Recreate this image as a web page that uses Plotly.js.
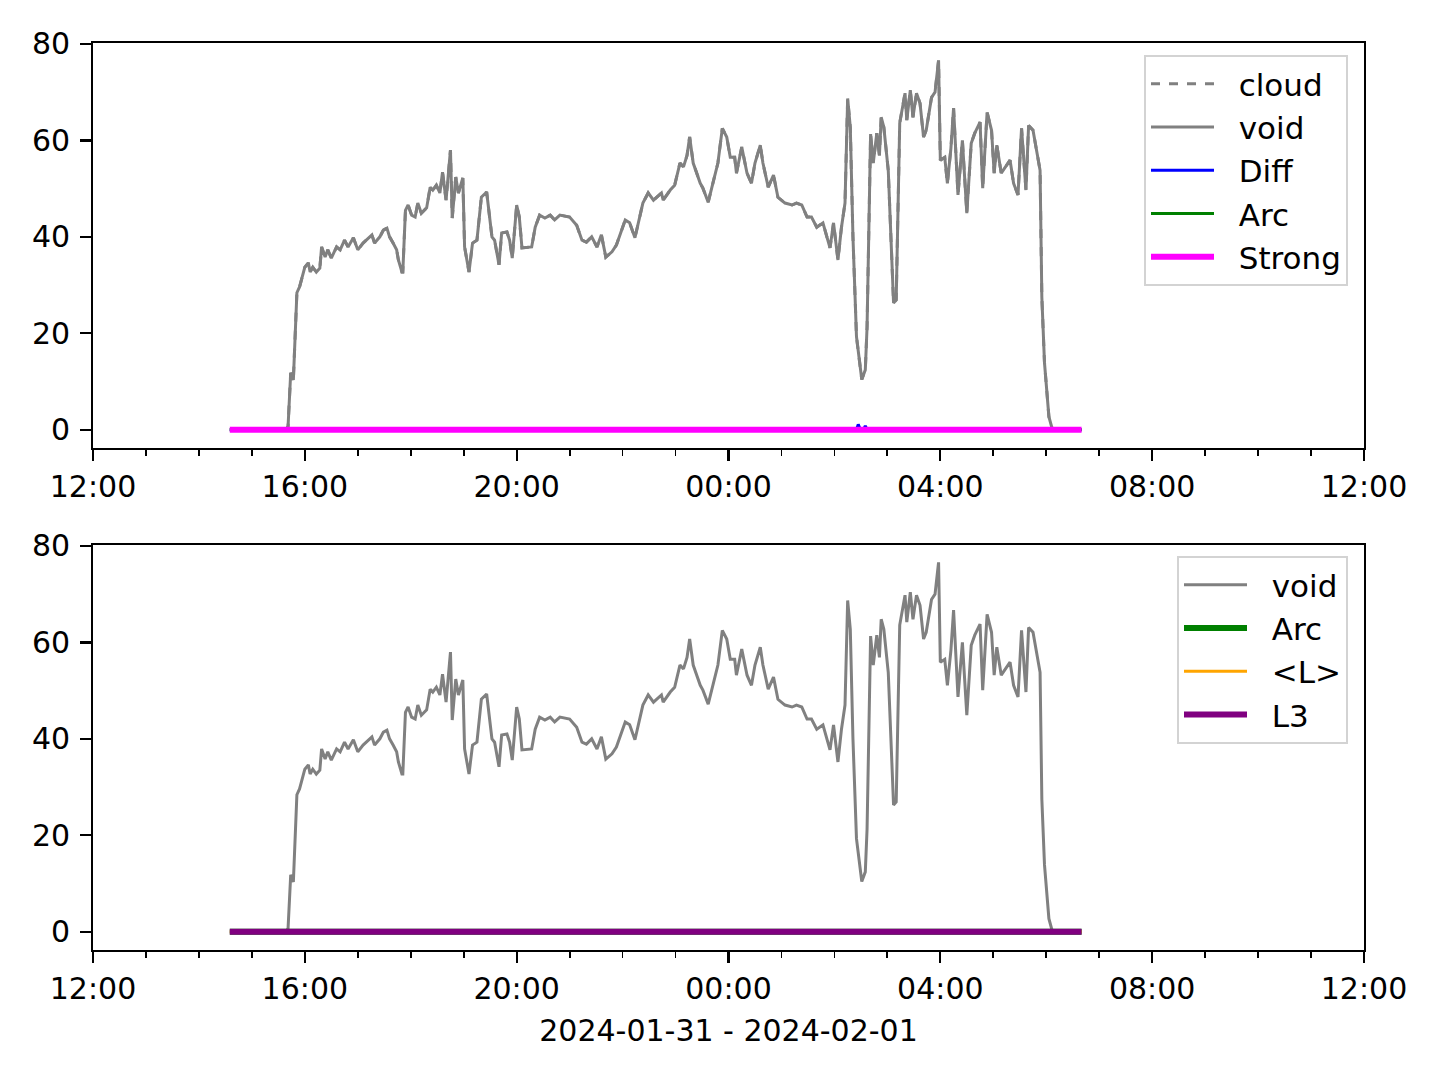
<!DOCTYPE html>
<html>
<head>
<meta charset="utf-8">
<script src="https://cdn.plot.ly/plotly-3.0.1.min.js"></script>
<style>html,body{margin:0;padding:0;background:#fff;}#chart{width:1440px;height:1080px;}</style>
</head>
<body>
<div id="chart"></div>
<script>
// ---- data ----
const voidTime = [
"2024-01-31 14:35","2024-01-31 15:39","2024-01-31 15:41","2024-01-31 15:44","2024-01-31 15:47","2024-01-31 15:51","2024-01-31 15:54",
"2024-01-31 16:00","2024-01-31 16:04","2024-01-31 16:06","2024-01-31 16:09","2024-01-31 16:13","2024-01-31 16:17","2024-01-31 16:19",
"2024-01-31 16:23","2024-01-31 16:26","2024-01-31 16:30","2024-01-31 16:36","2024-01-31 16:40","2024-01-31 16:45","2024-01-31 16:49",
"2024-01-31 16:55","2024-01-31 17:00","2024-01-31 17:06","2024-01-31 17:16","2024-01-31 17:19","2024-01-31 17:25","2024-01-31 17:29",
"2024-01-31 17:33","2024-01-31 17:36","2024-01-31 17:40","2024-01-31 17:44","2024-01-31 17:46","2024-01-31 17:50","2024-01-31 17:51",
"2024-01-31 17:54","2024-01-31 17:57","2024-01-31 18:01","2024-01-31 18:05","2024-01-31 18:08","2024-01-31 18:12","2024-01-31 18:18",
"2024-01-31 18:22","2024-01-31 18:25","2024-01-31 18:29","2024-01-31 18:33","2024-01-31 18:36","2024-01-31 18:40","2024-01-31 18:45",
"2024-01-31 18:47","2024-01-31 18:51","2024-01-31 18:54","2024-01-31 18:59","2024-01-31 19:01","2024-01-31 19:06","2024-01-31 19:10",
"2024-01-31 19:15","2024-01-31 19:18","2024-01-31 19:20","2024-01-31 19:26","2024-01-31 19:32","2024-01-31 19:35","2024-01-31 19:40",
"2024-01-31 19:43","2024-01-31 19:49","2024-01-31 19:52","2024-01-31 19:55","2024-01-31 20:00","2024-01-31 20:03","2024-01-31 20:06",
"2024-01-31 20:17","2024-01-31 20:21","2024-01-31 20:26","2024-01-31 20:32","2024-01-31 20:38","2024-01-31 20:43","2024-01-31 20:49",
"2024-01-31 21:00","2024-01-31 21:08","2024-01-31 21:14","2024-01-31 21:19","2024-01-31 21:25","2024-01-31 21:31","2024-01-31 21:36",
"2024-01-31 21:41","2024-01-31 21:48","2024-01-31 21:53","2024-01-31 21:59","2024-01-31 22:03","2024-01-31 22:08","2024-01-31 22:14",
"2024-01-31 22:23","2024-01-31 22:29","2024-01-31 22:35","2024-01-31 22:44","2024-01-31 22:46","2024-01-31 22:54","2024-01-31 22:59",
"2024-01-31 23:05","2024-01-31 23:09","2024-01-31 23:13","2024-01-31 23:16","2024-01-31 23:20","2024-01-31 23:28","2024-01-31 23:31",
"2024-01-31 23:37","2024-01-31 23:43","2024-01-31 23:48","2024-01-31 23:53","2024-01-31 23:58","2024-02-01 00:02","2024-02-01 00:07",
"2024-02-01 00:09","2024-02-01 00:15","2024-02-01 00:21","2024-02-01 00:26","2024-02-01 00:30","2024-02-01 00:36","2024-02-01 00:39",
"2024-02-01 00:45","2024-02-01 00:51","2024-02-01 00:56","2024-02-01 01:04","2024-02-01 01:12","2024-02-01 01:17","2024-02-01 01:23",
"2024-02-01 01:29","2024-02-01 01:34","2024-02-01 01:40","2024-02-01 01:47","2024-02-01 01:55","2024-02-01 01:59","2024-02-01 02:04",
"2024-02-01 02:08","2024-02-01 02:12","2024-02-01 02:15","2024-02-01 02:18","2024-02-01 02:21","2024-02-01 02:25","2024-02-01 02:31",
"2024-02-01 02:35","2024-02-01 02:37","2024-02-01 02:41","2024-02-01 02:44","2024-02-01 02:48","2024-02-01 02:51","2024-02-01 02:53",
"2024-02-01 02:56","2024-02-01 03:01","2024-02-01 03:03","2024-02-01 03:07","2024-02-01 03:10","2024-02-01 03:14","2024-02-01 03:20",
"2024-02-01 03:22","2024-02-01 03:26","2024-02-01 03:29","2024-02-01 03:33","2024-02-01 03:37","2024-02-01 03:41","2024-02-01 03:44",
"2024-02-01 03:50","2024-02-01 03:54","2024-02-01 03:58","2024-02-01 04:00","2024-02-01 04:05","2024-02-01 04:08","2024-02-01 04:12",
"2024-02-01 04:15","2024-02-01 04:20","2024-02-01 04:25","2024-02-01 04:30","2024-02-01 04:35","2024-02-01 04:39","2024-02-01 04:45",
"2024-02-01 04:48","2024-02-01 04:53","2024-02-01 04:58","2024-02-01 05:01","2024-02-01 05:04","2024-02-01 05:09","2024-02-01 05:19",
"2024-02-01 05:23","2024-02-01 05:28","2024-02-01 05:32","2024-02-01 05:37","2024-02-01 05:40","2024-02-01 05:45","2024-02-01 05:49",
"2024-02-01 05:53","2024-02-01 05:55","2024-02-01 05:58","2024-02-01 06:03","2024-02-01 06:06","2024-02-01 06:07","2024-02-01 06:40"
];
const voidValue = [
0,0,0.7,11.8,10.3,28.4,29.6,
33.7,34.6,32.7,33.7,32.7,33.5,37.9,
35.8,37.3,35.6,37.9,37.3,39.3,37.9,
39.8,37.3,38.7,40.4,38.7,40.0,41.4,
41.8,40.0,38.7,37.3,35.2,32.7,32.7,
45.5,46.6,44.5,44.1,47.0,44.9,46.0,
50.3,49.7,50.7,49.1,53.4,47.6,58.0,
43.9,52.4,49.1,52.2,37.9,32.7,38.7,
39.3,44.5,48.2,49.3,40.0,39.3,34.2,
40.8,41.0,39.3,35.6,46.6,44.1,37.7,
37.9,42.0,44.5,43.9,44.5,43.5,44.5,
44.1,42.4,39.3,38.9,40.0,37.9,40.4,
35.8,36.9,38.3,41.4,43.5,42.9,39.8,
47.0,49.1,47.6,49.1,47.6,49.7,50.7,
55.3,54.5,56.9,60.7,55.3,51.1,50.1,
47.2,51.8,55.3,62.5,60.7,56.5,56.5,
53.2,58.6,53.2,51.1,55.3,59.0,55.3,
50.3,52.8,48.2,47.0,46.6,47.0,46.6,
44.1,44.1,42.0,42.9,37.7,42.9,35.2,
42.0,47.0,68.7,62.7,40.0,19.3,10.4,
12.4,21.3,61.3,55.3,61.5,56.9,64.8,
62.7,53.8,44.1,26.3,26.9,63.6,69.8,
64.2,70.4,64.8,69.8,67.7,60.7,62.1,
68.9,70.0,76.6,55.9,56.5,51.1,58.4,
66.7,48.7,60.0,44.9,59.4,61.5,63.8,
50.1,65.8,62.1,53.2,59.0,53.2,55.9,
51.1,48.7,62.5,49.7,63.1,62.1,58.0,
53.8,27.5,13.9,2.7,0.6,0,0
];
const diffTime = ["2024-01-31 14:35","2024-02-01 02:25","2024-02-01 02:27","2024-02-01 02:29","2024-02-01 02:33","2024-02-01 02:35","2024-02-01 02:37","2024-02-01 06:40"];
const diffValue = [0,0,1.1,0.2,0,0.8,0,0];
const flatTime = ["2024-01-31 14:35","2024-02-01 06:40"];
const flatValue = [0,0];
const xRange = ["2024-01-31 12:00","2024-02-01 12:00"];
const yTicks = [0,20,40,60,80];
const xTitle = "2024-01-31 - 2024-02-01";

// ---- figure ----
const FONT = "DejaVu Sans, Arial, sans-serif";
const FS = 30;
const GAP = "\u00a0\u00a0";
function tr(x, y, name, color, width, dash, xa, ya, leg, grp) {
  return {x: x, y: y, name: GAP + name, type: "scatter", mode: "lines",
    line: {color: color, width: width, dash: dash || "solid"},
    xaxis: xa, yaxis: ya, legend: leg, legendgroup: grp, hoverinfo: "skip"};
}
const data = [
  tr(voidTime, voidValue, "cloud", "gray", 3, "dash", "x", "y", "legend", "a1"),
  tr(voidTime, voidValue, "void", "gray", 3, "solid", "x", "y", "legend", "a2"),
  tr(diffTime, diffValue, "Diff", "blue", 3, "solid", "x", "y", "legend", "a3"),
  tr(flatTime, flatValue, "Arc", "green", 3, "solid", "x", "y", "legend", "a4"),
  tr(flatTime, flatValue, "Strong", "magenta", 6, "solid", "x", "y", "legend", "a5"),
  tr(voidTime, voidValue, "void", "gray", 3, "solid", "x2", "y2", "legend2", "b1"),
  tr(flatTime, flatValue, "Arc", "green", 6, "solid", "x2", "y2", "legend2", "b2"),
  tr(flatTime, flatValue, "&lt;L&gt;", "orange", 3, "solid", "x2", "y2", "legend2", "b3"),
  tr(flatTime, flatValue, "L3", "purple", 6, "solid", "x2", "y2", "legend2", "b4")
];
function xax(anchor, title) {
  const a = {
    domain: [93/1440, 1364/1440], anchor: anchor, type: "date", range: xRange,
    tick0: xRange[0], dtick: 4*3600000, tickformat: "%H:%M",
    ticks: "outside", ticklen: 10.5, tickwidth: 2.3, tickcolor: "black",
    showline: true, linecolor: "black", linewidth: 2.3, mirror: true,
    showgrid: false, zeroline: false,
    tickfont: {family: FONT, size: FS, color: "black"},
    minor: {dtick: 3600000, ticks: "outside", ticklen: 6, tickwidth: 1.8, tickcolor: "black", showgrid: false}
  };
  if (title) a.title = {text: title, font: {family: FONT, size: FS, color: "black"}, standoff: 15};
  return a;
}
function yax(anchor, dom) {
  return {
    domain: dom, anchor: anchor, range: [-3.8, 80.2],
    tickvals: yTicks, ticktext: yTicks.map(String),
    ticks: "outside", ticklen: 10.5, tickwidth: 2.3, tickcolor: "black",
    showline: true, linecolor: "black", linewidth: 2.3, mirror: true,
    showgrid: false, zeroline: false, ticklabelstandoff: 4,
    tickfont: {family: FONT, size: FS, color: "black"}
  };
}
function leg(x, y) {
  return {x: x, y: y, xanchor: "right", yanchor: "top", xref: "paper", yref: "paper",
    bgcolor: "white", bordercolor: "#d3d3d3", borderwidth: 2, itemwidth: 63,
    font: {family: FONT, size: 31, color: "black"}, tracegroupgap: 16, traceorder: "normal"};
}
const layout = {
  width: 1440, height: 1080, margin: {l: 0, r: 0, t: 0, b: 0},
  paper_bgcolor: "white", plot_bgcolor: "white", showlegend: true,
  xaxis: xax("y"), yaxis: yax("x", [1-448/1080, 1-43/1080]),
  xaxis2: xax("y2", xTitle), yaxis2: yax("x2", [1-950/1080, 1-545/1080]),
  legend: leg(1348/1440, 1-55/1080),
  legend2: leg(1348/1440, 1-556/1080)
};
Plotly.newPlot("chart", data, layout, {staticPlot: true});
</script>
</body>
</html>
